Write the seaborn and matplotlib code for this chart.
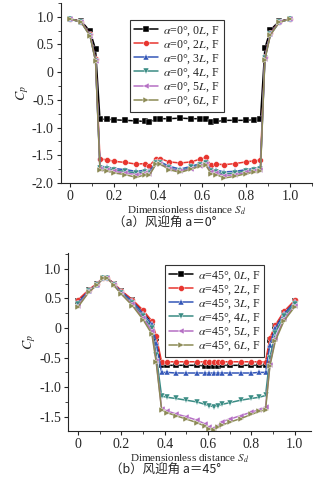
import numpy as np
import pandas as pd
import matplotlib
matplotlib.use('Agg')
import matplotlib.pyplot as plt
from matplotlib.ticker import MultipleLocator, FuncFormatter
import seaborn as sns

# --- data ---
cases = ['0L', '2L', '3L', '4L', '5L', '6L']
colors = ['#000000', '#e8352f', '#3457b8', '#3a8c84', '#b56fc4', '#8c8a55']
markers = ['s', 'o', '^', 'v', '<', '>']

# (a) wind angle 0
x_a = [0, 0.05, 0.09, 0.115, 0.135, 0.165, 0.2, 0.25, 0.3, 0.34, 0.36, 0.39, 0.41, 0.45, 0.5,
       0.55, 0.59, 0.615, 0.64, 0.665, 0.7, 0.75, 0.8, 0.835, 0.865, 0.885, 0.91, 0.95, 1.0]
cp_a_0L = [0.96, 0.92, 0.74, 0.41, -0.85, -0.85, -0.86, -0.87, -0.88, -0.89, -0.90, -0.85, -0.84, -0.84, -0.83,
           -0.84, -0.84, -0.85, -0.90, -0.89, -0.87, -0.87, -0.87, -0.86, -0.85, 0.43, 0.76, 0.92, 0.96]
cp_a_2L = [0.96, 0.91, 0.68, 0.24, -1.57, -1.58, -1.61, -1.63, -1.66, -1.65, -1.69, -1.56, -1.56, -1.62, -1.64,
           -1.62, -1.57, -1.54, -1.68, -1.66, -1.67, -1.65, -1.62, -1.60, -1.59, 0.28, 0.70, 0.91, 0.96]
cp_a_3L = [0.96, 0.90, 0.67, 0.22, -1.70, -1.71, -1.74, -1.76, -1.79, -1.77, -1.79, -1.63, -1.62, -1.70, -1.75,
           -1.70, -1.65, -1.62, -1.76, -1.77, -1.80, -1.79, -1.76, -1.74, -1.72, 0.26, 0.69, 0.90, 0.96]
cp_a_4L = [0.96, 0.90, 0.66, 0.21, -1.73, -1.74, -1.77, -1.79, -1.82, -1.80, -1.82, -1.64, -1.64, -1.73, -1.78,
           -1.72, -1.67, -1.64, -1.79, -1.80, -1.84, -1.82, -1.78, -1.76, -1.74, 0.25, 0.68, 0.90, 0.96]
cp_a_5L = [0.96, 0.90, 0.66, 0.20, -1.75, -1.76, -1.79, -1.82, -1.85, -1.82, -1.84, -1.65, -1.65, -1.74, -1.79,
           -1.74, -1.69, -1.65, -1.81, -1.82, -1.87, -1.85, -1.81, -1.79, -1.77, 0.24, 0.68, 0.90, 0.96]
cp_a_6L = [0.96, 0.90, 0.65, 0.20, -1.77, -1.78, -1.82, -1.85, -1.90, -1.85, -1.86, -1.66, -1.66, -1.76, -1.81,
           -1.75, -1.70, -1.67, -1.83, -1.85, -1.91, -1.88, -1.83, -1.81, -1.78, 0.22, 0.67, 0.90, 0.96]

# (b) wind angle 45
x_b = [0, 0.05, 0.085, 0.115, 0.135, 0.165, 0.2, 0.25, 0.3, 0.34, 0.36, 0.385, 0.41, 0.45, 0.5,
       0.55, 0.585, 0.605, 0.625, 0.645, 0.665, 0.7, 0.75, 0.8, 0.835, 0.865, 0.885, 0.91, 0.95, 1.0]
cp_b_0L = [0.45, 0.64, 0.74, 0.84, 0.84, 0.75, 0.62, 0.47, 0.28, 0.10, -0.17, -0.63, -0.63, -0.63, -0.63,
           -0.63, -0.64, -0.64, -0.64, -0.64, -0.63, -0.63, -0.63, -0.63, -0.63, -0.63, -0.20, 0.03, 0.25, 0.45]
cp_b_2L = [0.48, 0.65, 0.75, 0.85, 0.85, 0.75, 0.63, 0.48, 0.30, 0.12, -0.13, -0.57, -0.57, -0.57, -0.57,
           -0.57, -0.57, -0.57, -0.57, -0.57, -0.57, -0.57, -0.57, -0.57, -0.57, -0.57, -0.17, 0.05, 0.28, 0.47]
cp_b_3L = [0.43, 0.63, 0.73, 0.84, 0.84, 0.74, 0.61, 0.45, 0.24, 0.06, -0.25, -0.75, -0.75, -0.76, -0.76,
           -0.76, -0.76, -0.76, -0.76, -0.76, -0.76, -0.76, -0.76, -0.76, -0.75, -0.75, -0.28, 0.00, 0.24, 0.44]
cp_b_4L = [0.40, 0.62, 0.73, 0.84, 0.84, 0.73, 0.59, 0.42, 0.20, 0.00, -0.45, -1.15, -1.17, -1.19, -1.22,
           -1.25, -1.29, -1.31, -1.33, -1.31, -1.29, -1.26, -1.22, -1.19, -1.17, -1.14, -0.50, -0.08, 0.20, 0.41]
cp_b_5L = [0.38, 0.62, 0.72, 0.84, 0.84, 0.73, 0.58, 0.40, 0.17, -0.05, -0.55, -1.36, -1.40, -1.45, -1.50,
           -1.56, -1.62, -1.68, -1.69, -1.65, -1.58, -1.54, -1.48, -1.42, -1.38, -1.34, -0.62, -0.18, 0.15, 0.38]
cp_b_6L = [0.36, 0.61, 0.72, 0.84, 0.84, 0.72, 0.57, 0.38, 0.14, -0.10, -0.57, -1.38, -1.43, -1.48, -1.54,
           -1.60, -1.66, -1.71, -1.72, -1.68, -1.64, -1.59, -1.53, -1.46, -1.41, -1.38, -0.64, -0.22, 0.12, 0.36]

series_a = [cp_a_0L, cp_a_2L, cp_a_3L, cp_a_4L, cp_a_5L, cp_a_6L]
series_b = [cp_b_0L, cp_b_2L, cp_b_3L, cp_b_4L, cp_b_5L, cp_b_6L]


def long_df(xs, series, angle):
    rows = []
    for c, ys in zip(cases, series):
        lab = r'$\alpha$=%d°, %s$L$, F' % (angle, c[:-1])
        for xv, yv in zip(xs, ys):
            rows.append((xv, yv, lab))
    return pd.DataFrame(rows, columns=['Sd', 'Cp', 'case'])


sns.set_style('ticks')
plt.rcParams['font.family'] = ['Liberation Serif', 'Noto Sans CJK SC', 'DejaVu Sans']
plt.rcParams['mathtext.fontset'] = 'stix'
plt.rcParams['axes.unicode_minus'] = False

fig = plt.figure(figsize=(3.36, 4.84), dpi=100)
ax1 = fig.add_axes([0.181, 0.622, 0.748, 0.372])
ax2 = fig.add_axes([0.203, 0.1095, 0.724, 0.368])


def fmt(v, pos):
    if abs(v) < 1e-9:
        return '0'
    return '%.1f' % v


def draw(ax, df, ylim, xlim, leg_anchor):
    sns.lineplot(data=df, x='Sd', y='Cp', hue='case', style='case', palette=colors,
                 markers=markers, dashes=False, estimator=None, sort=False,
                 markersize=4.2, linewidth=1.1, markeredgewidth=0.3, ax=ax)
    ax.set_xlim(*xlim)
    ax.set_ylim(*ylim)
    ax.xaxis.set_major_locator(MultipleLocator(0.2))
    ax.xaxis.set_minor_locator(MultipleLocator(0.1))
    ax.yaxis.set_major_locator(MultipleLocator(0.5))
    ax.yaxis.set_minor_locator(MultipleLocator(0.25))
    ax.xaxis.set_major_formatter(FuncFormatter(fmt))
    ax.yaxis.set_major_formatter(FuncFormatter(fmt))
    ax.tick_params(which='major', length=3, width=0.8, labelsize=10, pad=2)
    ax.tick_params(which='minor', length=2, width=0.6)
    ax.set_xlabel(r'Dimensionless distance $S_d$', fontsize=8, labelpad=1)
    ax.set_ylabel(r'$C_p$', fontsize=10, labelpad=1)
    sns.despine(ax=ax)
    for s in ['left', 'bottom']:
        ax.spines[s].set_linewidth(0.8)
    leg = ax.legend(loc='upper left', bbox_to_anchor=leg_anchor, borderaxespad=0,
                    fontsize=8.6, fancybox=False, edgecolor='#333333', framealpha=1,
                    handlelength=2.0, handletextpad=0.4, labelspacing=0.05,
                    borderpad=0.35, title=None)
    leg.get_frame().set_linewidth(0.8)


draw(ax1, long_df(x_a, series_a, 0), (-2.0, 1.25), (-0.043, 1.1), (0.276, 0.906))
draw(ax2, long_df(x_b, series_b, 45), (-1.74, 1.27), (-0.046, 1.077), (0.397, 0.933))

fig.text(0.49, 0.538, '（a）风迎角 a＝0°', ha='center', va='center', fontsize=9,
         family=['Noto Sans CJK SC', 'DejaVu Sans'])
fig.text(0.494, 0.028, '（b）风迎角 a＝45°', ha='center', va='center', fontsize=9,
         family=['Noto Sans CJK SC', 'DejaVu Sans'])

fig.savefig('out.png', dpi=100)
